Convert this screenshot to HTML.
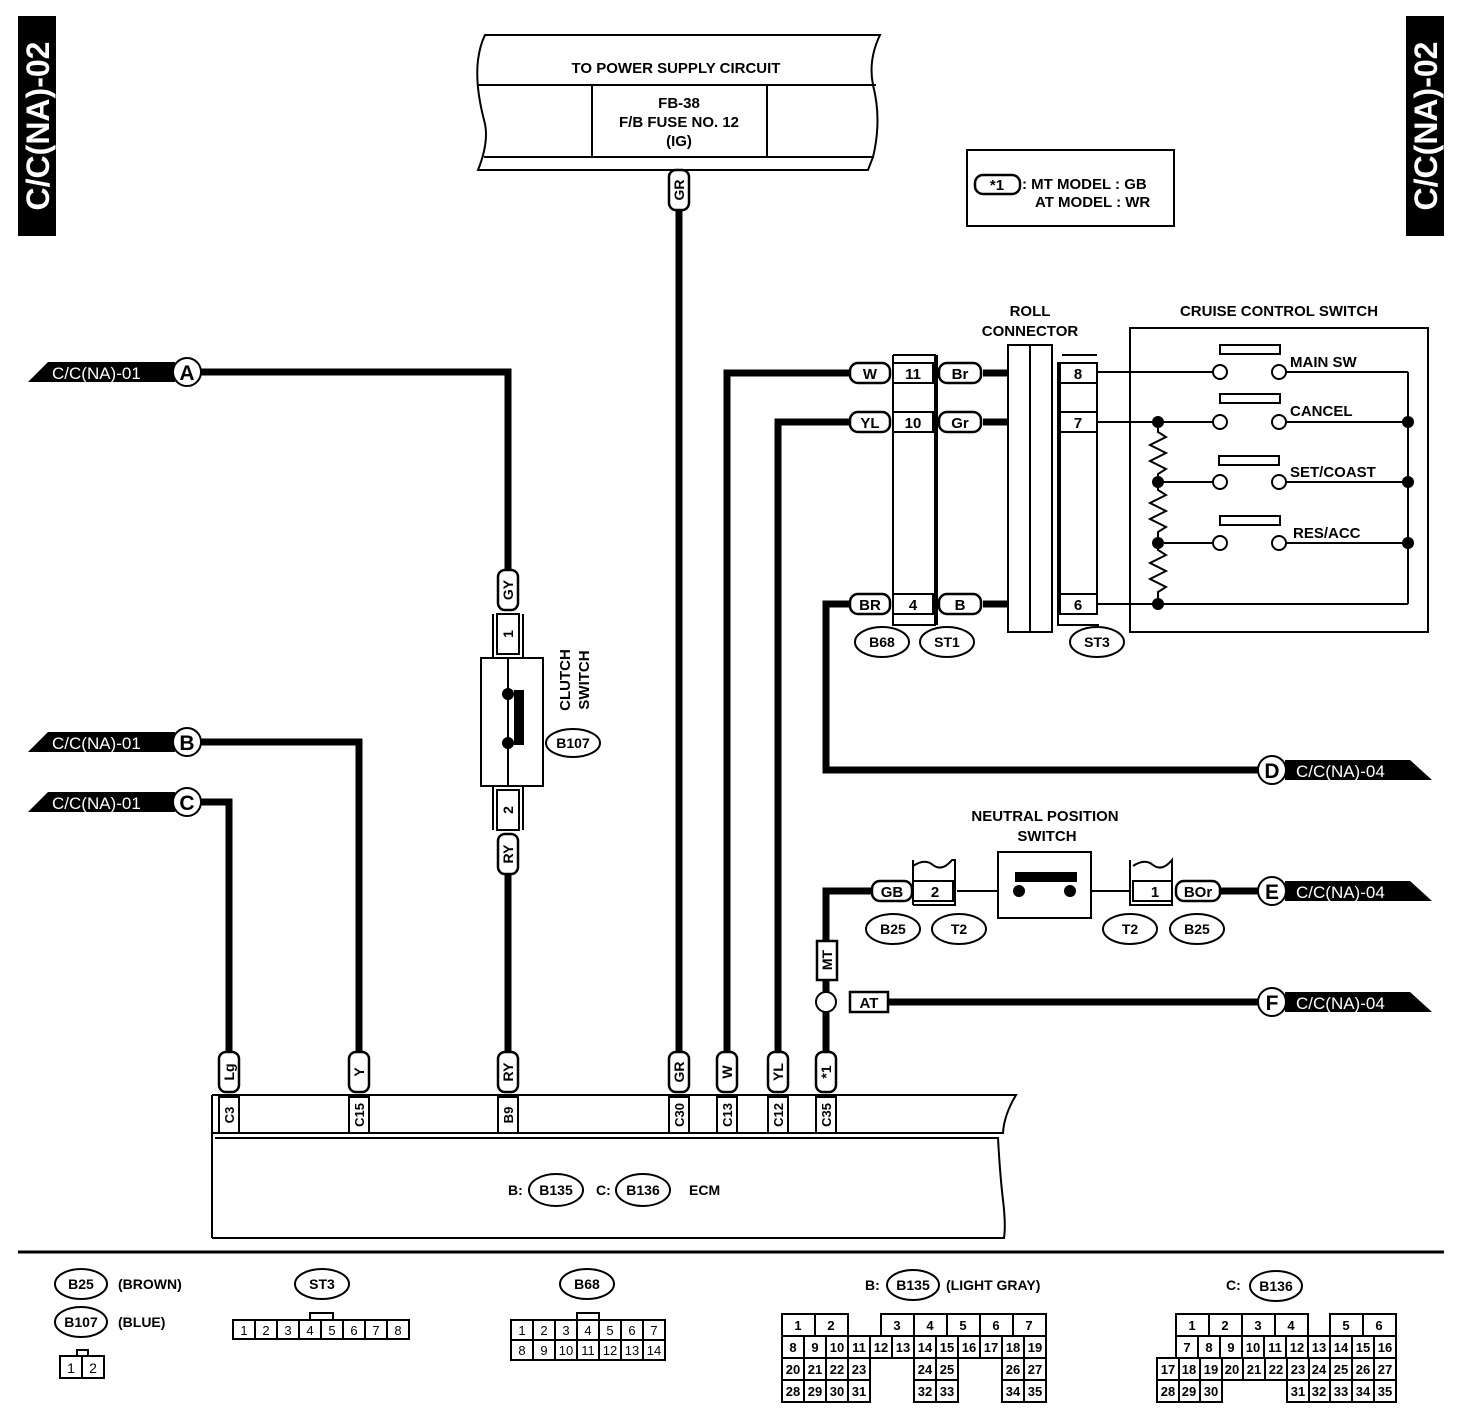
<!DOCTYPE html>
<html><head><meta charset="utf-8"><style>
html,body{margin:0;padding:0;background:#fff}
svg{display:block}
text{font-family:"Liberation Sans",sans-serif;font-weight:bold;fill:#000}
.w{fill:none;stroke:#000;stroke-width:7;stroke-linejoin:miter}
.t{fill:none;stroke:#000;stroke-width:2}
.b{fill:#fff;stroke:#000;stroke-width:2}
.lb{fill:#fff;stroke:#000;stroke-width:2.5}
</style></head><body>
<svg width="1472" height="1422" viewBox="0 0 1472 1422" xmlns="http://www.w3.org/2000/svg">
<!-- side tabs -->
<rect x="18" y="16" width="38" height="220" fill="#000"/>
<text transform="translate(49,126) rotate(-90)" text-anchor="middle" font-size="32" style="fill:#fff">C/C(NA)-02</text>
<rect x="1406" y="16" width="38" height="220" fill="#000"/>
<text transform="translate(1437,126) rotate(-90)" text-anchor="middle" font-size="32" style="fill:#fff">C/C(NA)-02</text>

<!-- power supply box -->
<path class="t" stroke-width="3" d="M485,35 L880,35 Q868,60 873,85 Q882,120 873,157 L868,170 L478,170 Q490,140 484,120 Q475,85 478,60 Q480,45 485,35 Z"/>
<line class="t" x1="478" y1="85" x2="876" y2="85" stroke-width="3"/>
<line class="t" x1="484" y1="157" x2="874" y2="157" stroke-width="3"/>
<line class="t" x1="592" y1="85" x2="592" y2="157" stroke-width="3"/>
<line class="t" x1="767" y1="85" x2="767" y2="157" stroke-width="3"/>
<text x="676" y="73" text-anchor="middle" font-size="15">TO POWER SUPPLY CIRCUIT</text>
<text x="679" y="108" text-anchor="middle" font-size="15">FB-38</text>
<text x="679" y="127" text-anchor="middle" font-size="15">F/B FUSE NO. 12</text>
<text x="679" y="146" text-anchor="middle" font-size="15">(IG)</text>

<!-- note box -->
<rect x="967" y="150" width="207" height="76" class="t" stroke-width="3"/>
<rect x="975" y="175" width="45" height="19" rx="8" class="lb"/>
<text x="997" y="190" text-anchor="middle" font-size="15">*1</text>
<text x="1022" y="189" font-size="15">: MT MODEL  : GB</text>
<text x="1035" y="207" font-size="15">AT MODEL  : WR</text>

<!-- wires -->
<line class="w" x1="679" y1="210" x2="679" y2="1052"/>
<polyline class="w" points="200,372 508,372 508,570"/>
<line class="w" x1="508" y1="874" x2="508" y2="1052"/>
<polyline class="w" points="200,742 359,742 359,1052"/>
<polyline class="w" points="200,802 229,802 229,1052"/>
<polyline class="w" points="727,1052 727,373 850,373"/>
<polyline class="w" points="778,1052 778,422 850,422"/>
<polyline class="w" points="850,604 826,604 826,770 1260,770"/>
<polyline class="w" points="872,891 826,891 826,941"/>
<line class="w" x1="826" y1="980" x2="826" y2="1052"/>
<line class="w" x1="888" y1="1002" x2="1260" y2="1002"/>
<line class="w" x1="1220" y1="891" x2="1260" y2="891"/>
<line class="w" x1="983" y1="373" x2="1008" y2="373"/>
<line class="w" x1="983" y1="422" x2="1008" y2="422"/>
<line class="w" x1="983" y1="604" x2="1008" y2="604"/>

<!-- left tabs -->
<g>
<polygon points="28,382 48,362 175,362 175,382" fill="#000"/>
<text x="52" y="379" font-size="17" style="fill:#fff;font-weight:normal">C/C(NA)-01</text>
<circle cx="187" cy="372" r="14" class="b" stroke-width="3"/><text x="187" y="380" text-anchor="middle" font-size="21">A</text>
<polygon points="28,752 48,732 175,732 175,752" fill="#000"/>
<text x="52" y="749" font-size="17" style="fill:#fff;font-weight:normal">C/C(NA)-01</text>
<circle cx="187" cy="742" r="14" class="b" stroke-width="3"/><text x="187" y="750" text-anchor="middle" font-size="21">B</text>
<polygon points="28,812 48,792 175,792 175,812" fill="#000"/>
<text x="52" y="809" font-size="17" style="fill:#fff;font-weight:normal">C/C(NA)-01</text>
<circle cx="187" cy="802" r="14" class="b" stroke-width="3"/><text x="187" y="810" text-anchor="middle" font-size="21">C</text>
</g>
<!-- right tabs -->
<g>
<polygon points="1285,760 1410,760 1432,780 1285,780" fill="#000"/>
<text x="1296" y="777" font-size="17" style="fill:#fff;font-weight:normal">C/C(NA)-04</text>
<circle cx="1272" cy="770" r="14" class="b" stroke-width="3"/><text x="1272" y="778" text-anchor="middle" font-size="21">D</text>
<polygon points="1285,881 1410,881 1432,901 1285,901" fill="#000"/>
<text x="1296" y="898" font-size="17" style="fill:#fff;font-weight:normal">C/C(NA)-04</text>
<circle cx="1272" cy="891" r="14" class="b" stroke-width="3"/><text x="1272" y="899" text-anchor="middle" font-size="21">E</text>
<polygon points="1285,992 1410,992 1432,1012 1285,1012" fill="#000"/>
<text x="1296" y="1009" font-size="17" style="fill:#fff;font-weight:normal">C/C(NA)-04</text>
<circle cx="1272" cy="1002" r="14" class="b" stroke-width="3"/><text x="1272" y="1010" text-anchor="middle" font-size="21">F</text>
</g>

<!-- vertical wire labels -->
<g font-size="14">
<rect x="669" y="170" width="20" height="40" rx="7" class="lb"/><text transform="translate(684,190) rotate(-90)" text-anchor="middle">GR</text>
<rect x="498" y="570" width="20" height="40" rx="7" class="lb"/><text transform="translate(513,590) rotate(-90)" text-anchor="middle">GY</text>
<rect x="498" y="834" width="20" height="40" rx="7" class="lb"/><text transform="translate(513,854) rotate(-90)" text-anchor="middle">RY</text>
<rect x="219" y="1052" width="20" height="40" rx="7" class="lb"/><text transform="translate(234,1072) rotate(-90)" text-anchor="middle">Lg</text>
<rect x="349" y="1052" width="20" height="40" rx="7" class="lb"/><text transform="translate(364,1072) rotate(-90)" text-anchor="middle">Y</text>
<rect x="498" y="1052" width="20" height="40" rx="7" class="lb"/><text transform="translate(513,1072) rotate(-90)" text-anchor="middle">RY</text>
<rect x="669" y="1052" width="20" height="40" rx="7" class="lb"/><text transform="translate(684,1072) rotate(-90)" text-anchor="middle">GR</text>
<rect x="717" y="1052" width="20" height="40" rx="7" class="lb"/><text transform="translate(732,1072) rotate(-90)" text-anchor="middle">W</text>
<rect x="768" y="1052" width="20" height="40" rx="7" class="lb"/><text transform="translate(783,1072) rotate(-90)" text-anchor="middle">YL</text>
<rect x="816" y="1052" width="20" height="40" rx="7" class="lb"/><text transform="translate(831,1072) rotate(-90)" text-anchor="middle">*1</text>
<rect x="817" y="941" width="20" height="39" class="lb"/><text transform="translate(832,960) rotate(-90)" text-anchor="middle">MT</text>
</g>
<circle cx="826" cy="1002" r="10" class="b" stroke-width="3"/>
<rect x="850" y="992" width="38" height="20" class="lb"/><text x="869" y="1008" text-anchor="middle" font-size="15">AT</text>

<!-- clutch switch -->
<line class="t" x1="493" y1="614" x2="493" y2="658"/><line class="t" x1="523" y1="614" x2="523" y2="658"/>
<rect x="497" y="614" width="22" height="40" class="b"/><text transform="translate(513,634) rotate(-90)" text-anchor="middle" font-size="14">1</text>
<line class="t" x1="493" y1="786" x2="493" y2="830"/><line class="t" x1="523" y1="786" x2="523" y2="830"/>
<rect x="497" y="790" width="22" height="40" class="b"/><text transform="translate(513,810) rotate(-90)" text-anchor="middle" font-size="14">2</text>
<rect x="481" y="658" width="62" height="128" class="b" stroke-width="2.5"/>
<line class="t" x1="508" y1="658" x2="508" y2="786"/>
<rect x="514" y="690" width="10" height="55" fill="#000"/>
<circle cx="508" cy="694" r="6" fill="#000"/><circle cx="508" cy="743" r="6" fill="#000"/>
<text transform="translate(570,680) rotate(-90)" text-anchor="middle" font-size="15">CLUTCH</text>
<text transform="translate(589,680) rotate(-90)" text-anchor="middle" font-size="15">SWITCH</text>
<ellipse cx="573" cy="743" rx="27" ry="14" class="b" stroke-width="2.5"/><text x="573" y="748" text-anchor="middle" font-size="14">B107</text>

<!-- connectors B68 / ST1 -->
<polyline class="t" points="893,355 935,355 935,625 893,625 893,355"/>
<polyline class="t" points="937,355 937,625"/>
<rect x="893" y="363" width="40" height="20" class="b"/><text x="913" y="379" text-anchor="middle" font-size="15">11</text>
<rect x="893" y="412" width="40" height="20" class="b"/><text x="913" y="428" text-anchor="middle" font-size="15">10</text>
<rect x="893" y="594" width="40" height="20" class="b"/><text x="913" y="610" text-anchor="middle" font-size="15">4</text>
<g font-size="15">
<rect x="850" y="363" width="40" height="20" rx="8" class="lb"/><text x="870" y="379" text-anchor="middle">W</text>
<rect x="850" y="412" width="40" height="20" rx="8" class="lb"/><text x="870" y="428" text-anchor="middle">YL</text>
<rect x="850" y="594" width="40" height="20" rx="8" class="lb"/><text x="870" y="610" text-anchor="middle">BR</text>
<rect x="939" y="363" width="42" height="20" rx="8" class="lb"/><text x="960" y="379" text-anchor="middle">Br</text>
<rect x="939" y="412" width="42" height="20" rx="8" class="lb"/><text x="960" y="428" text-anchor="middle">Gr</text>
<rect x="939" y="594" width="42" height="20" rx="8" class="lb"/><text x="960" y="610" text-anchor="middle">B</text>
</g>
<ellipse cx="882" cy="642" rx="27" ry="15" class="b" stroke-width="2.5"/><text x="882" y="647" text-anchor="middle" font-size="14">B68</text>
<ellipse cx="947" cy="642" rx="27" ry="15" class="b" stroke-width="2.5"/><text x="947" y="647" text-anchor="middle" font-size="14">ST1</text>
<!-- roll connector -->
<text x="1030" y="316" text-anchor="middle" font-size="15">ROLL</text>
<text x="1030" y="336" text-anchor="middle" font-size="15">CONNECTOR</text>
<rect x="1008" y="345" width="44" height="287" class="b"/>
<line class="t" x1="1030" y1="345" x2="1030" y2="632"/>
<!-- ST3 -->
<line class="t" x1="1062" y1="355" x2="1097" y2="355"/>
<polyline class="t" points="1058,362 1058,625 1099,625"/>
<rect x="1060" y="363" width="37" height="20" class="b"/><text x="1078" y="379" text-anchor="middle" font-size="15">8</text>
<rect x="1060" y="383" width="37" height="29" class="b"/>
<rect x="1060" y="412" width="37" height="20" class="b"/><text x="1078" y="428" text-anchor="middle" font-size="15">7</text>
<rect x="1060" y="432" width="37" height="162" class="b"/>
<rect x="1060" y="594" width="37" height="20" class="b"/><text x="1078" y="610" text-anchor="middle" font-size="15">6</text>
<ellipse cx="1097" cy="642" rx="27" ry="15" class="b" stroke-width="2.5"/><text x="1097" y="647" text-anchor="middle" font-size="14">ST3</text>

<!-- cruise control switch -->
<text x="1279" y="316" text-anchor="middle" font-size="15">CRUISE CONTROL SWITCH</text>
<rect x="1130" y="328" width="298" height="304" class="t" stroke-width="3"/>
<g class="t">
<line x1="1097" y1="372" x2="1213" y2="372"/><line x1="1286" y1="372" x2="1408" y2="372"/>
<line x1="1097" y1="422" x2="1213" y2="422"/><line x1="1286" y1="422" x2="1408" y2="422"/>
<line x1="1158" y1="482" x2="1213" y2="482"/><line x1="1286" y1="482" x2="1408" y2="482"/>
<line x1="1158" y1="543" x2="1213" y2="543"/><line x1="1286" y1="543" x2="1408" y2="543"/>
<line x1="1097" y1="604" x2="1408" y2="604"/>
<line x1="1408" y1="372" x2="1408" y2="604"/>
<polyline points="1158,422 1158,432 1166,437 1150,445 1166,453 1150,461 1166,469 1158,474 1158,482 1158,490 1166,495 1150,503 1166,511 1150,519 1166,527 1158,532 1158,543 1158,550 1166,555 1150,563 1166,571 1150,579 1166,587 1158,592 1158,604"/>
</g>
<g fill="#000">
<circle cx="1158" cy="422" r="6"/><circle cx="1158" cy="482" r="6"/><circle cx="1158" cy="543" r="6"/><circle cx="1158" cy="604" r="6"/>
<circle cx="1408" cy="422" r="6"/><circle cx="1408" cy="482" r="6"/><circle cx="1408" cy="543" r="6"/>
</g>
<g class="b">
<circle cx="1220" cy="372" r="7"/><circle cx="1279" cy="372" r="7"/>
<circle cx="1220" cy="422" r="7"/><circle cx="1279" cy="422" r="7"/>
<circle cx="1220" cy="482" r="7"/><circle cx="1279" cy="482" r="7"/>
<circle cx="1220" cy="543" r="7"/><circle cx="1279" cy="543" r="7"/>
<rect x="1220" y="345" width="60" height="9"/><rect x="1220" y="394" width="60" height="9"/>
<rect x="1219" y="456" width="60" height="9"/><rect x="1220" y="516" width="60" height="9"/>
</g>
<g font-size="15">
<text x="1290" y="367">MAIN SW</text><text x="1290" y="416">CANCEL</text>
<text x="1290" y="477">SET/COAST</text><text x="1293" y="538">RES/ACC</text>
</g>

<!-- neutral position switch -->
<text x="1045" y="821" text-anchor="middle" font-size="15">NEUTRAL POSITION</text>
<text x="1047" y="841" text-anchor="middle" font-size="15">SWITCH</text>
<line class="t" x1="957" y1="891" x2="1130" y2="891"/>
<rect x="998" y="852" width="93" height="66" class="b" stroke-width="3"/>
<rect x="1015" y="872" width="62" height="10" fill="#000"/>
<circle cx="1019" cy="891" r="6" fill="#000"/><circle cx="1070" cy="891" r="6" fill="#000"/>
<rect x="872" y="881" width="40" height="20" rx="8" class="lb"/><text x="892" y="897" text-anchor="middle" font-size="15">GB</text>
<path class="t" d="M913,866 Q925,858 933,865 Q942,872 952,860 L955,860 L955,905 L913,905"/>
<line class="t" x1="913" y1="860" x2="913" y2="905"/>
<rect x="913" y="881" width="40" height="20" class="b"/><text x="935" y="897" text-anchor="middle" font-size="15">2</text>
<path class="t" d="M1133,866 Q1145,858 1153,865 Q1162,872 1172,860 L1172,905 L1130,905 L1130,860"/>
<rect x="1133" y="881" width="39" height="20" class="b"/><text x="1155" y="897" text-anchor="middle" font-size="15">1</text>
<rect x="1176" y="881" width="44" height="20" rx="8" class="lb"/><text x="1198" y="897" text-anchor="middle" font-size="15">BOr</text>
<ellipse cx="893" cy="929" rx="27" ry="15" class="b" stroke-width="2.5"/><text x="893" y="934" text-anchor="middle" font-size="14">B25</text>
<ellipse cx="959" cy="929" rx="27" ry="15" class="b" stroke-width="2.5"/><text x="959" y="934" text-anchor="middle" font-size="14">T2</text>
<ellipse cx="1130" cy="929" rx="27" ry="15" class="b" stroke-width="2.5"/><text x="1130" y="934" text-anchor="middle" font-size="14">T2</text>
<ellipse cx="1197" cy="929" rx="27" ry="15" class="b" stroke-width="2.5"/><text x="1197" y="934" text-anchor="middle" font-size="14">B25</text>

<!-- ECM -->
<path class="t" stroke-width="3" d="M212,1095 L1016,1095 Q1004,1115 1003,1133 L212,1133"/>
<line class="t" x1="212" y1="1095" x2="212" y2="1238" stroke-width="3"/>
<path class="t" stroke-width="3" d="M215,1138 L998,1138 Q1000,1175 1003,1200 Q1006,1225 1004,1238 L212,1238"/>
<g font-size="13">
<rect x="219" y="1097" width="20" height="36" class="b"/><text transform="translate(234,1115) rotate(-90)" text-anchor="middle">C3</text>
<rect x="349" y="1097" width="20" height="36" class="b"/><text transform="translate(364,1115) rotate(-90)" text-anchor="middle">C15</text>
<rect x="498" y="1097" width="20" height="36" class="b"/><text transform="translate(513,1115) rotate(-90)" text-anchor="middle">B9</text>
<rect x="669" y="1097" width="20" height="36" class="b"/><text transform="translate(684,1115) rotate(-90)" text-anchor="middle">C30</text>
<rect x="717" y="1097" width="20" height="36" class="b"/><text transform="translate(732,1115) rotate(-90)" text-anchor="middle">C13</text>
<rect x="768" y="1097" width="20" height="36" class="b"/><text transform="translate(783,1115) rotate(-90)" text-anchor="middle">C12</text>
<rect x="816" y="1097" width="20" height="36" class="b"/><text transform="translate(831,1115) rotate(-90)" text-anchor="middle">C35</text>
</g>
<text x="508" y="1195" font-size="14">B:</text>
<ellipse cx="556" cy="1190" rx="27" ry="16" class="b" stroke-width="2.5"/><text x="556" y="1195" text-anchor="middle" font-size="14">B135</text>
<text x="596" y="1195" font-size="14">C:</text>
<ellipse cx="643" cy="1190" rx="27" ry="16" class="b" stroke-width="2.5"/><text x="643" y="1195" text-anchor="middle" font-size="14">B136</text>
<text x="689" y="1195" font-size="14">ECM</text>

<!-- separator -->
<line x1="18" y1="1252" x2="1444" y2="1252" stroke="#000" stroke-width="3"/>

<!-- legend -->
<ellipse cx="81" cy="1284" rx="26" ry="15" class="b" stroke-width="2.5"/><text x="81" y="1289" text-anchor="middle" font-size="14">B25</text>
<text x="118" y="1289" font-size="14">(BROWN)</text>
<ellipse cx="81" cy="1322" rx="26" ry="15" class="b" stroke-width="2.5"/><text x="81" y="1327" text-anchor="middle" font-size="14">B107</text>
<text x="118" y="1327" font-size="14">(BLUE)</text>
<rect x="77" y="1350" width="11" height="6" class="b" stroke-width="1.5"/>
<g class="b" stroke-width="1.5"><rect x="60" y="1356" width="22" height="22"/><rect x="82" y="1356" width="22" height="22"/></g>
<g font-size="14"><text x="71" y="1373" text-anchor="middle" style="font-weight:normal">1</text><text x="93" y="1373" text-anchor="middle" style="font-weight:normal">2</text></g>

<ellipse cx="322" cy="1284" rx="27" ry="15" class="b" stroke-width="2.5"/><text x="322" y="1289" text-anchor="middle" font-size="14">ST3</text>
<rect x="310" y="1313" width="23" height="7" class="b" stroke-width="1.5"/>
<ellipse cx="587" cy="1284" rx="27" ry="15" class="b" stroke-width="2.5"/><text x="587" y="1289" text-anchor="middle" font-size="14">B68</text>
<rect x="577" y="1313" width="22" height="7" class="b" stroke-width="1.5"/>

<text x="865" y="1290" font-size="14">B:</text>
<ellipse cx="913" cy="1285" rx="26" ry="15" class="b" stroke-width="2.5"/><text x="913" y="1290" text-anchor="middle" font-size="14">B135</text>
<text x="946" y="1290" font-size="14">(LIGHT GRAY)</text>
<text x="1226" y="1290" font-size="14">C:</text>
<ellipse cx="1276" cy="1286" rx="26" ry="15" class="b" stroke-width="2.5"/><text x="1276" y="1291" text-anchor="middle" font-size="14">B136</text>

<g class="b" stroke-width="1.5">
<rect x="233" y="1320" width="22" height="19"/><rect x="255" y="1320" width="22" height="19"/><rect x="277" y="1320" width="22" height="19"/><rect x="299" y="1320" width="22" height="19"/><rect x="321" y="1320" width="22" height="19"/><rect x="343" y="1320" width="22" height="19"/><rect x="365" y="1320" width="22" height="19"/><rect x="387" y="1320" width="22" height="19"/>
<rect x="511" y="1320" width="22" height="20"/><rect x="533" y="1320" width="22" height="20"/><rect x="555" y="1320" width="22" height="20"/><rect x="577" y="1320" width="22" height="20"/><rect x="599" y="1320" width="22" height="20"/><rect x="621" y="1320" width="22" height="20"/><rect x="643" y="1320" width="22" height="20"/>
<rect x="511" y="1340" width="22" height="20"/><rect x="533" y="1340" width="22" height="20"/><rect x="555" y="1340" width="22" height="20"/><rect x="577" y="1340" width="22" height="20"/><rect x="599" y="1340" width="22" height="20"/><rect x="621" y="1340" width="22" height="20"/><rect x="643" y="1340" width="22" height="20"/>
<rect x="782" y="1314" width="33" height="22"/><rect x="815" y="1314" width="33" height="22"/>
<rect x="881" y="1314" width="33" height="22"/><rect x="914" y="1314" width="33" height="22"/><rect x="947" y="1314" width="33" height="22"/><rect x="980" y="1314" width="33" height="22"/><rect x="1013" y="1314" width="33" height="22"/>
<rect x="782" y="1336" width="22" height="22"/><rect x="804" y="1336" width="22" height="22"/><rect x="826" y="1336" width="22" height="22"/><rect x="848" y="1336" width="22" height="22"/><rect x="870" y="1336" width="22" height="22"/><rect x="892" y="1336" width="22" height="22"/><rect x="914" y="1336" width="22" height="22"/><rect x="936" y="1336" width="22" height="22"/><rect x="958" y="1336" width="22" height="22"/><rect x="980" y="1336" width="22" height="22"/><rect x="1002" y="1336" width="22" height="22"/><rect x="1024" y="1336" width="22" height="22"/>
<rect x="782" y="1358" width="22" height="22"/><rect x="804" y="1358" width="22" height="22"/><rect x="826" y="1358" width="22" height="22"/><rect x="848" y="1358" width="22" height="22"/><rect x="914" y="1358" width="22" height="22"/><rect x="936" y="1358" width="22" height="22"/><rect x="1002" y="1358" width="22" height="22"/><rect x="1024" y="1358" width="22" height="22"/>
<rect x="782" y="1380" width="22" height="22"/><rect x="804" y="1380" width="22" height="22"/><rect x="826" y="1380" width="22" height="22"/><rect x="848" y="1380" width="22" height="22"/><rect x="914" y="1380" width="22" height="22"/><rect x="936" y="1380" width="22" height="22"/><rect x="1002" y="1380" width="22" height="22"/><rect x="1024" y="1380" width="22" height="22"/>
<rect x="1176" y="1314" width="33" height="22"/><rect x="1209" y="1314" width="33" height="22"/><rect x="1242" y="1314" width="33" height="22"/><rect x="1275" y="1314" width="33" height="22"/>
<rect x="1330" y="1314" width="33" height="22"/><rect x="1363" y="1314" width="33" height="22"/>
<rect x="1176" y="1336" width="22" height="22"/><rect x="1198" y="1336" width="22" height="22"/><rect x="1220" y="1336" width="22" height="22"/><rect x="1242" y="1336" width="22" height="22"/><rect x="1264" y="1336" width="22" height="22"/><rect x="1286" y="1336" width="22" height="22"/><rect x="1308" y="1336" width="22" height="22"/><rect x="1330" y="1336" width="22" height="22"/><rect x="1352" y="1336" width="22" height="22"/><rect x="1374" y="1336" width="22" height="22"/>
<rect x="1157" y="1358" width="22" height="22"/><rect x="1179" y="1358" width="21" height="22"/><rect x="1200" y="1358" width="22" height="22"/><rect x="1222" y="1358" width="21" height="22"/><rect x="1243" y="1358" width="22" height="22"/><rect x="1265" y="1358" width="22" height="22"/><rect x="1287" y="1358" width="22" height="22"/><rect x="1309" y="1358" width="21" height="22"/><rect x="1330" y="1358" width="22" height="22"/><rect x="1352" y="1358" width="22" height="22"/><rect x="1374" y="1358" width="22" height="22"/>
<rect x="1157" y="1380" width="22" height="22"/><rect x="1179" y="1380" width="21" height="22"/><rect x="1200" y="1380" width="22" height="22"/>
<rect x="1287" y="1380" width="22" height="22"/><rect x="1309" y="1380" width="21" height="22"/><rect x="1330" y="1380" width="22" height="22"/><rect x="1352" y="1380" width="22" height="22"/><rect x="1374" y="1380" width="22" height="22"/>
</g>
<g font-size="13" text-anchor="middle">
<text x="244" y="1335" style="font-weight:normal">1</text><text x="266" y="1335" style="font-weight:normal">2</text><text x="288" y="1335" style="font-weight:normal">3</text><text x="310" y="1335" style="font-weight:normal">4</text><text x="332" y="1335" style="font-weight:normal">5</text><text x="354" y="1335" style="font-weight:normal">6</text><text x="376" y="1335" style="font-weight:normal">7</text><text x="398" y="1335" style="font-weight:normal">8</text>
<text x="522" y="1335" style="font-weight:normal">1</text><text x="544" y="1335" style="font-weight:normal">2</text><text x="566" y="1335" style="font-weight:normal">3</text><text x="588" y="1335" style="font-weight:normal">4</text><text x="610" y="1335" style="font-weight:normal">5</text><text x="632" y="1335" style="font-weight:normal">6</text><text x="654" y="1335" style="font-weight:normal">7</text>
<text x="522" y="1355" style="font-weight:normal">8</text><text x="544" y="1355" style="font-weight:normal">9</text><text x="566" y="1355" style="font-weight:normal">10</text><text x="588" y="1355" style="font-weight:normal">11</text><text x="610" y="1355" style="font-weight:normal">12</text><text x="632" y="1355" style="font-weight:normal">13</text><text x="654" y="1355" style="font-weight:normal">14</text>
</g>
<g font-size="13" text-anchor="middle">
<text x="798" y="1330">1</text><text x="831" y="1330">2</text><text x="897" y="1330">3</text><text x="930" y="1330">4</text><text x="963" y="1330">5</text><text x="996" y="1330">6</text><text x="1029" y="1330">7</text>
<text x="793" y="1352">8</text><text x="815" y="1352">9</text><text x="837" y="1352">10</text><text x="859" y="1352">11</text><text x="881" y="1352">12</text><text x="903" y="1352">13</text><text x="925" y="1352">14</text><text x="947" y="1352">15</text><text x="969" y="1352">16</text><text x="991" y="1352">17</text><text x="1013" y="1352">18</text><text x="1035" y="1352">19</text>
<text x="793" y="1374">20</text><text x="815" y="1374">21</text><text x="837" y="1374">22</text><text x="859" y="1374">23</text><text x="925" y="1374">24</text><text x="947" y="1374">25</text><text x="1013" y="1374">26</text><text x="1035" y="1374">27</text>
<text x="793" y="1396">28</text><text x="815" y="1396">29</text><text x="837" y="1396">30</text><text x="859" y="1396">31</text><text x="925" y="1396">32</text><text x="947" y="1396">33</text><text x="1013" y="1396">34</text><text x="1035" y="1396">35</text>
<text x="1192" y="1330">1</text><text x="1225" y="1330">2</text><text x="1258" y="1330">3</text><text x="1291" y="1330">4</text><text x="1346" y="1330">5</text><text x="1379" y="1330">6</text>
<text x="1187" y="1352">7</text><text x="1209" y="1352">8</text><text x="1231" y="1352">9</text><text x="1253" y="1352">10</text><text x="1275" y="1352">11</text><text x="1297" y="1352">12</text><text x="1319" y="1352">13</text><text x="1341" y="1352">14</text><text x="1363" y="1352">15</text><text x="1385" y="1352">16</text>
<text x="1168" y="1374">17</text><text x="1189" y="1374">18</text><text x="1211" y="1374">19</text><text x="1232" y="1374">20</text><text x="1254" y="1374">21</text><text x="1276" y="1374">22</text><text x="1298" y="1374">23</text><text x="1319" y="1374">24</text><text x="1341" y="1374">25</text><text x="1363" y="1374">26</text><text x="1385" y="1374">27</text>
<text x="1168" y="1396">28</text><text x="1189" y="1396">29</text><text x="1211" y="1396">30</text><text x="1298" y="1396">31</text><text x="1319" y="1396">32</text><text x="1341" y="1396">33</text><text x="1363" y="1396">34</text><text x="1385" y="1396">35</text>
</g>
</svg>
</body></html>
